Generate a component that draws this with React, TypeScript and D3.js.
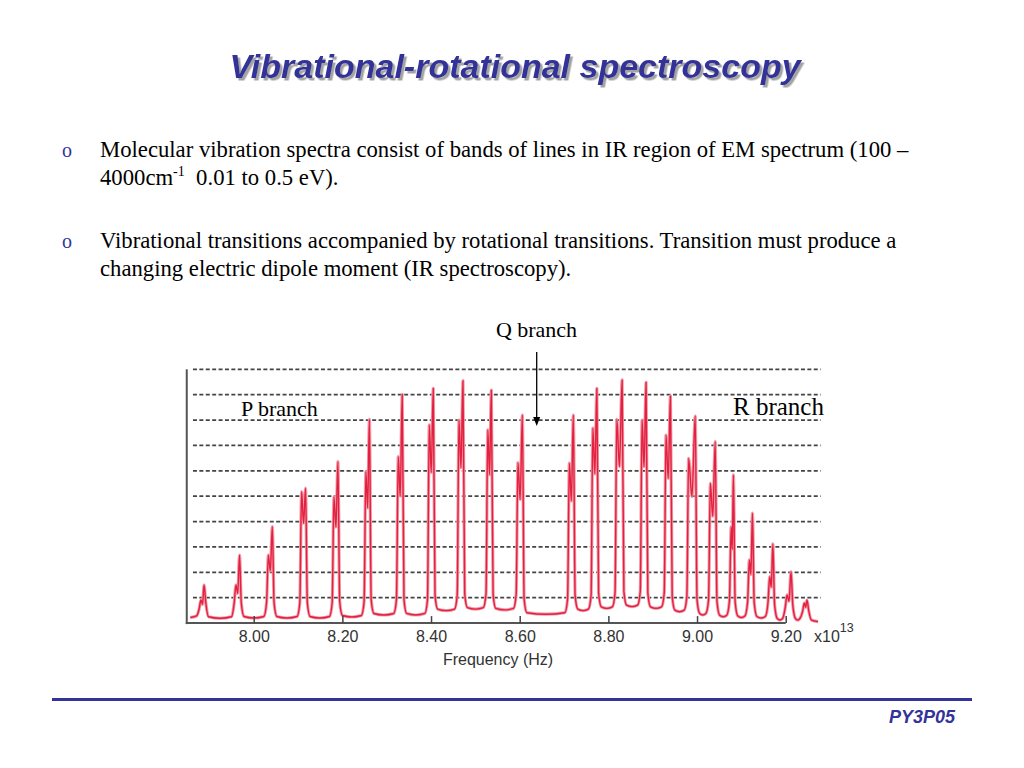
import React, { useEffect, useRef } from 'react';
import * as d3 from 'd3';

// ---- data ----
const xTickValues = [8.0, 8.2, 8.4, 8.6, 8.8, 9.0, 9.2];
const gridLevels = [1, 2, 3, 4, 5, 6, 7, 8, 9, 10];

// main line of each doublet (frequency x10^13 Hz, intensity in grid units)
const peakFreq = [7.888, 7.968, 8.042, 8.117, 8.190, 8.261, 8.335, 8.405, 8.472, 8.536, 8.606,
  8.721, 8.774, 8.831, 8.885, 8.940, 8.996, 9.041, 9.082, 9.125, 9.171, 9.212, 9.248];
const peakIntensity = [1.50, 2.68, 3.80, 5.32, 6.36, 8.03, 9.01, 9.25, 9.55, 9.18, 8.20,
  8.20, 9.25, 9.58, 9.49, 8.95, 8.16, 7.15, 5.84, 4.33, 3.12, 2.03, 0.91];
// weaker isotope line on the low-frequency side of each doublet
const shoulderFreq = [7.881, 7.960, 8.033, 8.108, 8.181, 8.253, 8.326, 8.396, 8.463, 8.528, 8.596,
  8.712, 8.765, 8.819, 8.876, 8.930, 8.981, 9.030, 9.077, 9.118, 9.164, 9.203, 9.242];
const shoulderIntensity = [0.91, 1.50, 2.68, 5.18, 4.98, 5.97, 6.56, 7.81, 8.00, 7.61, 6.32,
  6.30, 7.68, 8.03, 8.00, 7.41, 6.49, 5.51, 3.80, 2.49, 1.83, 1.11, 0.79];
// baseline level before, between and after the lines
const troughIntensity = [0.22, 0.19, 0.20, 0.20, 0.20, 0.24, 0.32, 0.32, 0.49, 0.55, 0.52, 0.35,
  0.49, 0.58, 0.65, 0.58, 0.45, 0.32, 0.25, 0.22, 0.20, 0.12, 0.12, 0.06];
const spectrumStart = 7.857;
const spectrumEnd = 9.273;

const frameStart = 7.849;
const axisEnd = 9.2;
const gridStart = 7.863;
const gridEnd = 9.279;

// ---- scales ----
const x = d3.scaleLinear().domain([8.0, 9.2]).range([253.7, 785.7]);
const y = d3.scaleLinear().domain([0, 10]).range([623.1, 369.3]);

function buildSpectrum(): [number, number][] {
  const pts: [number, number][] = [[spectrumStart, troughIntensity[0]]];
  for (let i = 0; i < peakFreq.length; i++) {
    const tL = troughIntensity[i];
    const tR = troughIntensity[i + 1];
    const fs = shoulderFreq[i];
    const hs = shoulderIntensity[i];
    const f = peakFreq[i];
    const h = peakIntensity[i];
    const footL = tL + Math.min(0.6, 0.5 * (hs - tL));
    const footR = tR + Math.min(0.6, 0.5 * (h - tR));
    pts.push([fs - 0.010, tL + 0.06]);
    pts.push([fs - 0.004, footL]);
    pts.push([fs, hs]);
    pts.push([(fs + f) / 2, hs - 0.25 * (hs - tL)]);
    pts.push([f, h]);
    pts.push([f + 0.004, footR]);
    pts.push([f + 0.010, tR + 0.06]);
    if (i < peakFreq.length - 1) pts.push([(f + shoulderFreq[i + 1]) / 2, tR]);
  }
  pts.push([spectrumEnd, troughIntensity[troughIntensity.length - 1]]);
  return pts;
}

const serif = '"Liberation Serif", "Times New Roman", serif';
const sans = '"Liberation Sans", Arial, sans-serif';
const navy = '#333399';

export default function App() {
  const axisRef = useRef<SVGGElement>(null);

  useEffect(() => {
    if (!axisRef.current) return;
    const g = d3.select(axisRef.current);
    g.call(
      d3.axisBottom(x)
        .tickValues(xTickValues)
        .tickSizeInner(-7)
        .tickSizeOuter(0)
        .tickPadding(8)
        .tickFormat(d3.format('.2f'))
    );
    g.select('.domain').remove();
    g.attr('font-size', 16).attr('font-family', sans);
    g.selectAll('.tick line').attr('stroke', '#444').attr('stroke-width', 1.5);
    g.selectAll('.tick text').attr('fill', '#333');
  }, []);

  const line = d3.line<[number, number]>()
    .x(d => x(d[0]))
    .y(d => y(d[1]))
    .curve(d3.curveMonotoneX);
  const spectrumPath = line(buildSpectrum()) || '';

  const arrowX = 536.7;

  return (
    <svg width={1024} height={768} style={{ position: 'absolute', left: 0, top: 0, background: '#fff' }}>
      <defs>
        <filter id="titleShadow" x="-5%" y="-30%" width="110%" height="160%">
          <feDropShadow dx={2.5} dy={2.5} stdDeviation={0.6} floodColor="#999" floodOpacity={0.9} />
        </filter>
      </defs>

      {/* title with shadow */}
      <text x={515} y={78} textAnchor="middle" fontFamily={sans} fontWeight="bold" fontStyle="italic"
        fontSize={34} fill={navy} filter="url(#titleShadow)">Vibrational-rotational spectroscopy</text>

      {/* bullets */}
      <g fontFamily={serif} fontSize={22.7} fill="#000">
        <text x={62} y={157} fontSize={20} fill={navy}>o</text>
        <text x={100} y={157}>Molecular vibration spectra consist of bands of lines in IR region of EM spectrum (100 –</text>
        <text x={100} y={185}>4000cm<tspan fontSize={14} dy={-9}>-1</tspan><tspan dy={9}>{'\u00a0\u00a00.01 to 0.5 eV).'}</tspan></text>
        <text x={62} y={248} fontSize={20} fill={navy}>o</text>
        <text x={100} y={248}>Vibrational transitions accompanied by rotational transitions. Transition must produce a</text>
        <text x={100} y={276}>changing electric dipole moment (IR spectroscopy).</text>
      </g>

      {/* grid */}
      <g>
        {gridLevels.map(v => (
          <line key={v} x1={x(gridStart)} x2={x(gridEnd)} y1={y(v)} y2={y(v)}
            stroke="#444" strokeWidth={1.7} strokeDasharray="4,2.4" />
        ))}
      </g>

      {/* spectrum */}
      <path d={spectrumPath} fill="none" stroke="#f29aa8" strokeWidth={3.2} strokeLinejoin="round" />
      <path d={spectrumPath} fill="none" stroke="#e3203f" strokeWidth={1.4} strokeLinejoin="round" />

      {/* axes */}
      <line x1={x(frameStart)} x2={x(frameStart)} y1={y(10)} y2={y(0) + 1} stroke="#555" strokeWidth={2} />
      <line x1={x(frameStart) - 1} x2={x(axisEnd)} y1={y(0)} y2={y(0)} stroke="#555" strokeWidth={2} />
      <g ref={axisRef} transform={`translate(0,${y(0)})`} />
      <text x={814} y={642} fontFamily={sans} fontSize={16} fill="#333">x10<tspan fontSize={12.5} dy={-10}>13</tspan></text>
      <text x={498} y={665} textAnchor="middle" fontFamily={sans} fontSize={16} fill="#333">Frequency (Hz)</text>

      {/* annotations */}
      <text x={536.5} y={337} textAnchor="middle" fontFamily={serif} fontSize={22} fill="#000">Q branch</text>
      <line x1={arrowX} x2={arrowX} y1={352} y2={419} stroke="#000" strokeWidth={1.3} />
      <path d={`M${arrowX - 3.5},417 L${arrowX + 3.5},417 L${arrowX},426 Z`} fill="#000" />
      <text x={241} y={416} fontFamily={serif} fontSize={22} fill="#000">P branch</text>
      <text x={733} y={415} fontFamily={serif} fontSize={25} fill="#000">R branch</text>

      {/* footer */}
      <line x1={52} x2={972} y1={699.5} y2={699.5} stroke={navy} strokeWidth={3} />
      <text x={955} y={723} textAnchor="end" fontFamily={sans} fontWeight="bold" fontStyle="italic"
        fontSize={18} fill={navy}>PY3P05</text>
    </svg>
  );
}
